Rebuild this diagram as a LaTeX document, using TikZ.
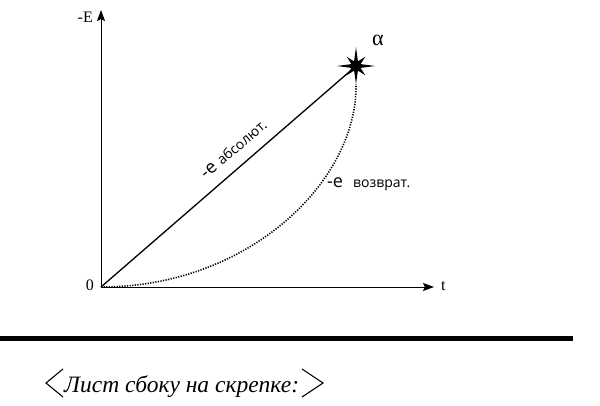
\documentclass[tikz,border=0pt]{standalone}
\usepackage{fontspec}
\setmainfont{Liberation Serif}
\newfontfamily\lblfont{Open Sans}
\usetikzlibrary{arrows.meta}
\begin{document}
\begin{tikzpicture}[x=1pt,y=-1pt,
  axis/.style={line width=0.9pt,-{Stealth[length=11pt,width=8pt,inset=2pt]}},
  solidline/.style={line width=1.3pt},
  dotline/.style={line width=1.6pt,dash pattern=on 1.2pt off 1.4pt},
  serif/.style={inner sep=0pt,font=\fontsize{16}{16}\selectfont},
  lbl/.style={inner sep=0pt},
  bigE/.style={font=\lblfont\fontsize{18}{18}\selectfont},
  smallE/.style={font=\lblfont\fontsize{14}{14}\selectfont}
]
\useasboundingbox (0,0) rectangle (600,405);
% axes
\coordinate (O) at (101,287);
\coordinate (ytop) at (101,10);
\coordinate (xend) at (434,287);
\draw[axis] (O) -- (ytop);
\draw[axis] (O) -- (xend);
\node[serif,anchor=base east] (mE) at (93,22) {-E};
\node[serif,anchor=base east] (zero) at (94,290) {0};
\node[serif,anchor=base west] (tl) at (441,290) {t};
% star
\coordinate (S) at (356,66);
\coordinate (Sb) at (356,84);
\draw[solidline] (O) -- (S);
\draw[dotline] (O) .. controls (250,287) and (358,180) .. (Sb);
\fill[shift={(356,66)}] (0:19) -- (22.5:5) -- (45:13) -- (67.5:5) -- (90:18) -- (112.5:5) -- (135:13) -- (157.5:5)
  -- (180:19) -- (202.5:5) -- (225:13) -- (247.5:5) -- (270:19) -- (292.5:5) -- (315:13) -- (337.5:5) -- cycle;
\node[inner sep=0pt,anchor=base,font=\fontsize{22}{22}\selectfont] (alpha) at (378,45) {α};
% labels
\node[lbl,rotate=40.5,anchor=base] (abs) at (237,153) {\lblfont{\fontsize{18}{18}\selectfont -e}\hspace{5pt}{\fontsize{14}{14}\selectfont абсолют.}};
\node[lbl,anchor=base west,bigE] (e2) at (327,187) {-e};
\node[lbl,anchor=base west,smallE] (voz) at (353,187) {возврат.};
% bar
\fill (0,336) rectangle (573,341);
% bottom text
\node[inner sep=0pt,anchor=base west,font=\itshape\fontsize{23.5}{23.5}\selectfont] (txt) at (64,392) {Лист сбоку на скрепке:};
\draw[line width=1.1pt] (63,369) -- (46,383) -- (63,397);
\draw[line width=1.1pt] (302,369) -- (323,383) -- (302,397);
\end{tikzpicture}
\end{document}
